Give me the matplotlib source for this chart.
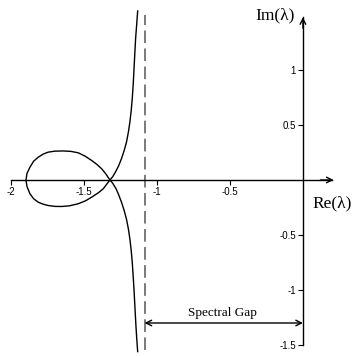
import matplotlib
matplotlib.use("Agg")
import matplotlib.pyplot as plt

plt.rcParams['axes.unicode_minus'] = False

# Curve (one continuous path: upper branch -> node -> loop -> node -> lower branch)
upper_re = [-1.132, -1.139, -1.146, -1.152, -1.158, -1.163, -1.169, -1.176, -1.185,
            -1.195, -1.208, -1.224, -1.242, -1.262, -1.283, -1.303, -1.322]
upper_im = [1.536, 1.41, 1.288, 1.14, 0.985, 0.86, 0.743, 0.635, 0.530,
            0.44, 0.348, 0.27, 0.197, 0.13, 0.075, 0.03, 0.0]
loop_re = [-1.345, -1.368, -1.40, -1.447, -1.49, -1.539, -1.60, -1.653, -1.70, -1.745,
           -1.78, -1.813, -1.845, -1.870, -1.890, -1.897, -1.890, -1.870, -1.845, -1.813,
           -1.78, -1.745, -1.70, -1.642, -1.59, -1.539, -1.49, -1.447, -1.41, -1.379,
           -1.35, -1.322]
loop_im = [-0.04, -0.08, -0.115, -0.156, -0.19, -0.216, -0.235, -0.241, -0.24, -0.232,
           -0.22, -0.202, -0.17, -0.125, -0.06, 0.0, 0.06, 0.116, 0.17, 0.207,
           0.235, 0.253, 0.262, 0.264, 0.26, 0.247, 0.215, 0.177, 0.14, 0.102,
           0.055, 0.0]
lower_re = [-1.303, -1.280, -1.262, -1.242, -1.224, -1.208, -1.195, -1.185, -1.176,
            -1.169, -1.163, -1.157, -1.151, -1.145, -1.139, -1.132]
lower_im = [-0.03, -0.08, -0.135, -0.205, -0.28, -0.36, -0.45, -0.54, -0.645,
            -0.75, -0.87, -1.0, -1.15, -1.30, -1.43, -1.56]

asymptote_re = -1.085
asymptote_im = [-1.55, 1.50]
gap_im = -1.30
gap_label = "Spectral Gap"

xticks = [-2, -1.5, -1, -0.5]
xticklabels = ["-2", "-1.5", "-1", "-0.5"]
yticks = [-1.5, -1, -0.5, 0.5, 1]
yticklabels = ["-1.5", "-1", "-0.5", "0.5", "1"]

curve_re = upper_re + loop_re + lower_re
curve_im = upper_im + loop_im + lower_im

fig = plt.figure(figsize=(3.59, 3.56), dpi=100)
ax = fig.add_axes([0, 0, 1, 1])
ax.set_xlim(-2.075, 0.384)
ax.set_ylim(-1.60, 1.636)
ax.patch.set_alpha(0)

for s in ['top', 'right']:
    ax.spines[s].set_visible(False)
ax.spines['left'].set_position(('data', 0))
ax.spines['bottom'].set_position(('data', 0))
ax.spines['bottom'].set_bounds(-2, 0.2)
ax.spines['left'].set_bounds(-1.5, 1.48)
ax.spines['left'].set_linewidth(1.0)
ax.spines['bottom'].set_linewidth(1.0)

ax.set_xticks(xticks)
ax.set_xticklabels(xticklabels)
ax.set_yticks(yticks)
ax.set_yticklabels(yticklabels)
ax.tick_params(axis='both', direction='out', length=3.5, width=0.8, pad=1.5,
               labelsize=7)
for lbl in ax.get_xticklabels() + ax.get_yticklabels():
    lbl.set_family('Liberation Sans')

# axis arrows
ax.annotate('', xy=(0.21, 0), xytext=(0.12, 0),
            arrowprops=dict(arrowstyle='->', lw=1.0, color='black', shrinkA=0, shrinkB=0))
ax.annotate('', xy=(0, 1.48), xytext=(0, 1.38),
            arrowprops=dict(arrowstyle='->', lw=1.0, color='black', shrinkA=0, shrinkB=0))

# curve
ax.plot(curve_re, curve_im, color='black', lw=1.0, solid_joinstyle='round')

# dashed line
ax.plot([asymptote_re, asymptote_re], asymptote_im, color='#707070', lw=1.3,
        dashes=(7, 3))

# spectral gap arrow
ax.annotate('', xy=(0, gap_im), xytext=(asymptote_re, gap_im),
            arrowprops=dict(arrowstyle='<->', lw=1.0, color='black', shrinkA=0, shrinkB=0))
ax.text(-0.548, gap_im + 0.035, gap_label, ha='center', va='bottom',
        family='Liberation Serif', fontsize=9.5)

# axis labels
ax.text(-0.055, 1.50, 'Im(λ)', ha='right', va='center', family='Liberation Serif', fontsize=12.5)
ax.text(0.20, -0.21, 'Re(λ)', ha='center', va='center', family='Liberation Serif', fontsize=12.5)

fig.savefig('out.png', dpi=100)
